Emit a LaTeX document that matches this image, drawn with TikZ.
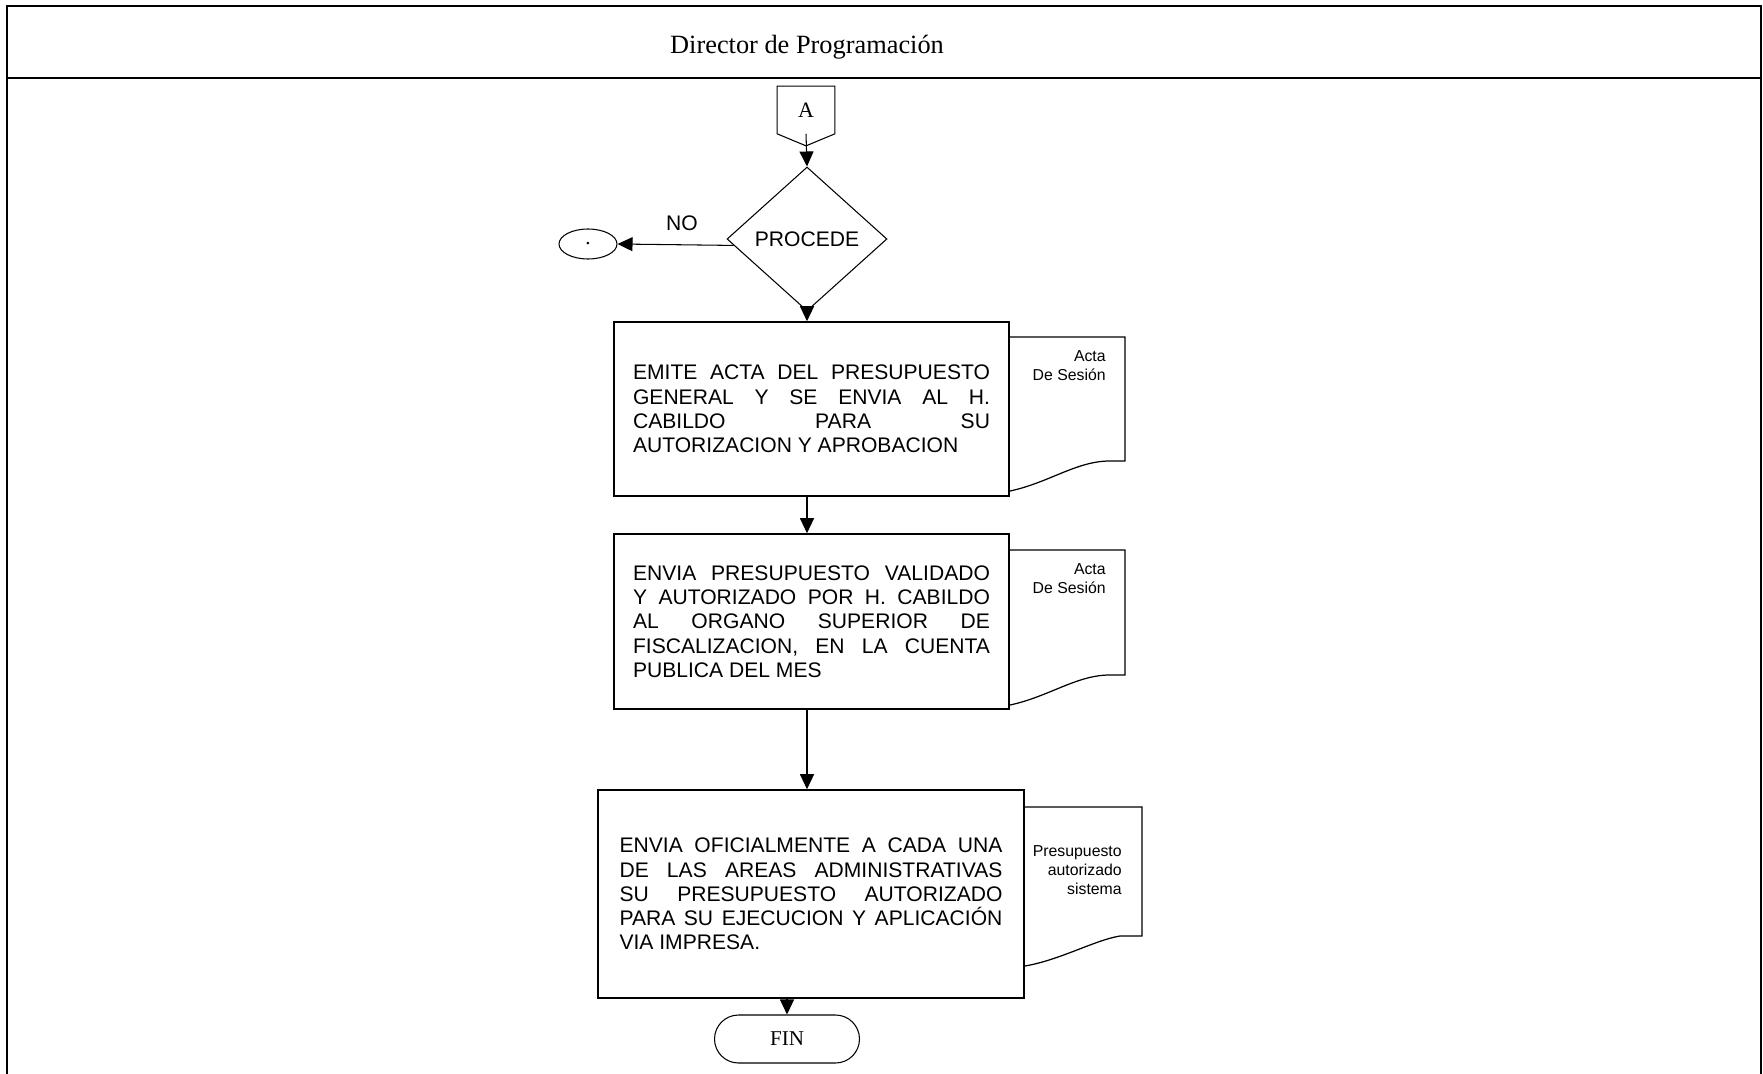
\documentclass[tikz,border=0pt]{standalone}
\usepackage{fontspec}
\setmainfont{Liberation Serif}
\setsansfont{Liberation Sans}
\usetikzlibrary{calc, shapes.geometric, arrows.meta, positioning}

\begin{document}
\begin{tikzpicture}[x=0.02cm, y=-0.02cm,
    proc/.style={draw, line width=0.9pt, fill=white, minimum width=7.9cm, minimum height=3.48cm,
        text width=7.14cm, align=justify,
        font={\sffamily\fontsize{12}{13.8}\selectfont\tolerance=9999\hbadness=10000}},
    doctext/.style={anchor=north east, inner sep=0pt, align=right, font=\sffamily\fontsize{9}{10.8}\selectfont},
    flecha/.style={-{Triangle[length=0.3cm, width=0.28cm]}, line width=0.6pt},
    docline/.style={line width=0.7pt, fill=white}]

    \useasboundingbox (0,0) rectangle (1763,1074);

    % Swimlane frame
    \draw[line width=1.2pt] (7,1074) -- (7,6) -- (1761,6) -- (1761,1074);
    \draw[line width=1.2pt] (7,78) -- (1761,78);
    \node[font=\fontsize{15}{18}\selectfont] (lane) at (807,47) {Director de Programación};

    % Off-page connector A
    \node[minimum width=1.14cm, minimum height=0.94cm, inner sep=0pt, font=\fontsize{12.5}{14}\selectfont] (conA) at (806,110) {A};
    \draw[line width=0.6pt] (conA.north west) -- (conA.north east) -- (conA.south east)
        -- ($(conA.south)+(0,12)$) -- (conA.south west) -- cycle;

    % Decision
    \node[diamond, draw, line width=0.6pt, minimum width=3.2cm, minimum height=2.88cm, inner sep=0pt,
        font=\sffamily\fontsize{12}{14}\selectfont] (dec) at (807,239) {PROCEDE};
    \draw[flecha] (conA.south) -- (dec.north);

    % NO branch
    \node[ellipse, draw, line width=0.6pt, minimum width=1.16cm, minimum height=0.6cm, inner sep=0pt,
        font=\fontsize{12}{12}\selectfont] (term) at (588,244) {.};
    \draw[flecha] (dec.185) -- (term.east);
    \node[font=\sffamily\fontsize{12}{14}\selectfont] (no) at (682,223) {NO};

    % Documents (the boxes cover their left side)
    \draw[docline] (990,337) -- (1125,337) -- (1125,461) -- (1108,461)
        .. controls (1070,462) and (1040,490) .. (990,494) -- cycle;
    \draw[docline] (990,550) -- (1125,550) -- (1125,675) -- (1108,675)
        .. controls (1070,676) and (1040,704) .. (990,708) -- cycle;
    \draw[docline] (1005,807) -- (1142,807) -- (1142,936) -- (1120,936)
        .. controls (1095,940) and (1060,960) .. (1025,966) -- (1005,968) -- cycle;

    % Processes
    \node[proc] (emite) at (811.5,409) {EMITE ACTA DEL PRESUPUESTO\linebreak
        GENERAL Y SE ENVIA AL H.\linebreak CABILDO PARA SU\linebreak AUTORIZACION Y APROBACION};
    \node[proc, minimum height=3.5cm] (envia) at (811.5,621.5) {ENVIA PRESUPUESTO VALIDADO\linebreak
        Y AUTORIZADO POR H. CABILDO\linebreak AL ORGANO SUPERIOR DE\linebreak
        FISCALIZACION, EN LA CUENTA\linebreak PUBLICA DEL MES};
    \node[proc, minimum width=8.52cm, minimum height=4.16cm, text width=7.66cm] (oficio) at (811,894)
        {ENVIA OFICIALMENTE A CADA UNA\linebreak DE LAS AREAS ADMINISTRATIVAS\linebreak
        SU PRESUPUESTO AUTORIZADO\linebreak PARA SU EJECUCION Y APLICACIÓN\linebreak VIA IMPRESA.};

    % Document labels
    \node[doctext] (acta1) at (1106,350) {Acta\\De Sesión};
    \node[doctext] (acta2) at (1106,563) {Acta\\De Sesión};
    \node[doctext] (pres) at (1122,845) {Presupuesto\\autorizado\\sistema};

    % End
    \node[draw, line width=0.6pt, rounded corners=0.48cm, minimum width=2.9cm, minimum height=0.96cm,
        font=\fontsize{12}{14}\selectfont] (fin) at (787,1039) {FIN};

    % Flow
    \draw[flecha] (dec.south) -- (dec.south |- emite.north);
    \draw[flecha] (emite.south -| dec.south) -- (envia.north -| dec.south);
    \draw[flecha] (envia.south -| dec.south) -- (oficio.north -| dec.south);
    \draw[flecha] (oficio.south -| fin.north) -- (fin.north);
\end{tikzpicture}
\end{document}
